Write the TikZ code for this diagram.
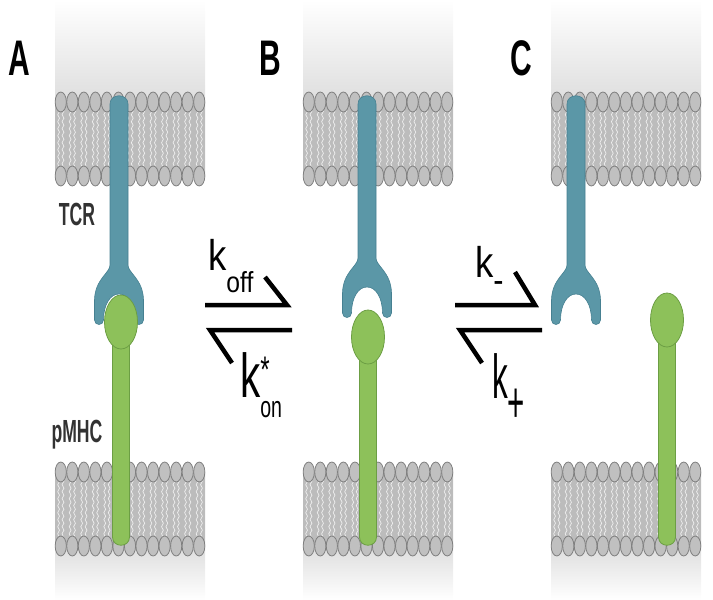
\documentclass[tikz,border=0pt]{standalone}
\usepackage{fontspec}
\setmainfont{Liberation Sans}
\usetikzlibrary{positioning,decorations.pathmorphing}
\definecolor{tcrblue}{RGB}{91,151,167}
\definecolor{tcrline}{RGB}{70,128,145}
\definecolor{mhcgreen}{RGB}{141,193,90}
\definecolor{mhcline}{RGB}{108,158,68}
\definecolor{headgray}{RGB}{192,192,192}
\definecolor{headline}{RGB}{128,128,128}
\definecolor{taildark}{RGB}{188,188,188}
\definecolor{taillight}{RGB}{214,214,214}
\definecolor{capgray}{RGB}{222,222,222}
\definecolor{labelgray}{RGB}{50,50,50}
\tikzstyle{head} = [draw=headline, fill=headgray, line width=0.8pt]
\tikzstyle{tail} = [white, opacity=0.75, line width=0.7pt, decorate, decoration={snake, amplitude=0.9pt, segment length=7pt}]
\tikzstyle{tcr} = [draw=tcrline, fill=tcrblue, line width=0.6pt]
\tikzstyle{mhc} = [draw=mhcline, fill=mhcgreen, line width=0.8pt]
\tikzstyle{harpoon} = [line width=4.5pt, line join=miter, black]
\tikzstyle{panel} = [font=\fontsize{50}{50}\selectfont\bfseries, xscale=0.6, anchor=base west, inner sep=0pt]
\tikzstyle{molname} = [font=\fontsize{32}{32}\selectfont\bfseries, xscale=0.55, text=labelgray, inner sep=0pt]
\tikzstyle{ratetop} = [font=\fontsize{43}{43}\selectfont, xscale=0.85, anchor=base west, inner sep=0pt]
\tikzstyle{ratebot} = [font=\fontsize{62}{62}\selectfont, xscale=0.62, anchor=base west, inner sep=0pt]
% one lipid bilayer: left edge, centre of upper head row
\newcommand{\bilayer}[2]{%
  \shade[top color=taildark, middle color=taillight, bottom color=taildark] (#1,#2) rectangle ++(150,74);
  \foreach \i in {0,...,12} {
    \draw[tail] (#1+11.54*\i+3.6,#2+7) -- ++(0,60);
    \draw[tail] (#1+11.54*\i+8,#2+7) -- ++(0,60);
  }
  \foreach \i in {0,...,12} {
    \draw[head] (#1+5.77+11.54*\i,#2) ellipse [x radius=5.6, y radius=10];
    \draw[head] (#1+5.77+11.54*\i,#2+74) ellipse [x radius=5.6, y radius=10];
  }
}
% TCR: centre x, top of stalk, start of the cup
\newcommand{\receptor}[3]{%
  \draw[tcr] (#1-9,#3) -- (#1-9,#2+9) .. controls (#1-9,#2-2) and (#1+9,#2-2) .. (#1+9,#2+9)
    -- (#1+9,#3) .. controls (#1+9,#3+8) and (#1+24,#3+14) .. (#1+24.5,#3+35)
    -- (#1+24.5,#3+55) .. controls (#1+24.5,#3+61) and (#1+15.5,#3+61) .. (#1+15.5,#3+55)
    .. controls (#1+15.5,#3+40) and (#1+9,#3+29) .. (#1,#3+29)
    .. controls (#1-9,#3+29) and (#1-15.5,#3+40) .. (#1-15.5,#3+55)
    .. controls (#1-15.5,#3+61) and (#1-24.5,#3+61) .. (#1-24.5,#3+55)
    -- (#1-24.5,#3+35) .. controls (#1-24,#3+14) and (#1-9,#3+8) .. cycle;
}
% pMHC: centre x, centre y of the head
\newcommand{\ligand}[2]{%
  \draw[mhc] (#1-8.5,#2) -- (#1-8.5,537) .. controls (#1-8.5,548) and (#1+8.5,548) .. (#1+8.5,537) -- (#1+8.5,#2);
  \draw[mhc] (#1,#2) ellipse [x radius=16.5, y radius=27];
}
\begin{document}
\begin{tikzpicture}[x=1pt, y=-1pt]
\useasboundingbox (0,0) rectangle (713,600);

% membranes
\foreach \px in {55,303,551} {
  \shade[top color=white, bottom color=capgray] (\px,0) rectangle ++(150,102);
  \shade[top color=capgray, bottom color=white] (\px,547) rectangle ++(150,53);
  \bilayer{\px}{102}
  \bilayer{\px}{472}
}

% receptors and ligands
\receptor{119}{95}{265}
\ligand{121}{322}
\receptor{367}{95}{258}
\ligand{368}{337}
\receptor{576}{95}{265}
\ligand{667}{320}

% labels
\node[panel] (lblA) at (8,75) {A};
\node[panel] (lblB) at (259,75) {B};
\node[panel] (lblC) at (510,75) {C};
\node[molname] (lblTCR) at (77,214) {TCR};
\node[molname] (lblMHC) at (77,435) {pMHC};

% A <-> B
\coordinate (offtail) at (205,305);
\coordinate (offtip) at (287,305);
\coordinate (offbarb) at (265,277);
\coordinate (ontail) at (292,330);
\coordinate (ontip) at (210,330);
\coordinate (onbarb) at (232,363);
\draw[harpoon] (offtail) -- (offtip) -- (offbarb);
\draw[harpoon] (ontail) -- (ontip) -- (onbarb);
\node[ratetop] (koff) at (208,270) {k\raisebox{-22pt}{\fontsize{29}{29}\selectfont off}};
\node[ratebot, xscale=1.05] (kon) at (240,397) {k\rlap{\raisebox{15pt}{\fontsize{37}{37}\selectfont *}}\raisebox{-20pt}{\fontsize{30}{30}\selectfont on}};

% B <-> C
\coordinate (mtail) at (455,305);
\coordinate (mtip) at (535,305);
\coordinate (mbarb) at (515,272);
\coordinate (ptail) at (542,330);
\coordinate (ptip) at (460,330);
\coordinate (pbarb) at (482,363);
\draw[harpoon] (mtail) -- (mtip) -- (mbarb);
\draw[harpoon] (ptail) -- (ptip) -- (pbarb);
\node[ratetop] (kminus) at (475,277) {k\raisebox{-15pt}{\fontsize{36}{36}\selectfont -}};
\node[ratebot, xscale=0.82] (kplus) at (492,398) {k\raisebox{-24pt}{\fontsize{58}{58}\selectfont +}};
\end{tikzpicture}
\end{document}
